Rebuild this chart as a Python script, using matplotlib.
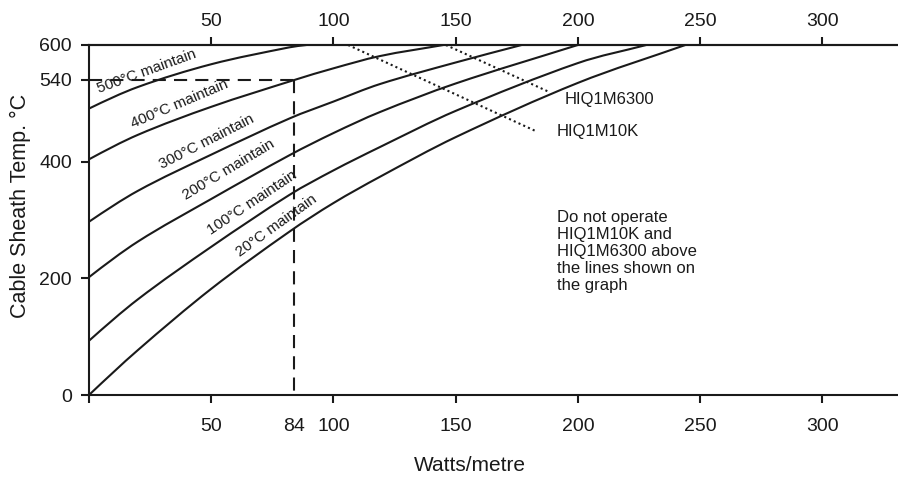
import matplotlib
matplotlib.use("Agg")
import matplotlib.pyplot as plt
from matplotlib.path import Path
from matplotlib.patches import PathPatch

plt.rcParams['font.family'] = ['Liberation Sans', 'DejaVu Sans']

# ---- data ----
x500 = [0, 20, 50, 82, 89]
y500 = [491, 528, 567, 596, 600]
x400 = [0, 20, 50, 84, 100, 119, 145]
y400 = [404, 446, 494, 540, 560, 581, 600]
x300 = [0, 20, 50, 82, 100, 119, 150, 177]
y300 = [297, 350, 412, 474, 503, 533, 570, 600]
x200 = [0, 20, 50, 82, 100, 119, 150, 200]
y200 = [202, 263, 336, 411, 449, 485, 534, 600]
x100 = [0, 20, 50, 82, 100, 119, 150, 200, 228]
y100 = [93, 164, 254, 343, 385, 425, 487, 569, 600]
x20 = [0, 20, 50, 82, 100, 119, 150, 200, 244]
y20 = [0, 77, 182, 280, 329, 374, 442, 535, 600]

curve_labels = ["500°C maintain", "400°C maintain", "300°C maintain",
                "200°C maintain", "100°C maintain", "20°C maintain"]

x_10k = [106, 183]
y_10k = [600, 452]
x_6300 = [146, 188]
y_6300 = [600, 520]

ref_watts = 84
ref_temp = 540

bottom_ticks = [0, 50, 100, 150, 200, 250, 300]
bottom_labels = ["", "50", "100", "150", "200", "250", "300"]
top_ticks = [50, 100, 150, 200, 250, 300]
y_ticks = [0, 200, 400, 540, 600]

INK = '#1a1a1a'


def smooth_path(xs, ys):
    """Cubic Bezier path through the read points (Hermite tangents)."""
    n = len(xs)
    sec = [(ys[i + 1] - ys[i]) / (xs[i + 1] - xs[i]) for i in range(n - 1)]
    m = [0.0] * n
    for i in range(1, n - 1):
        m[i] = (ys[i + 1] - ys[i - 1]) / (xs[i + 1] - xs[i - 1])
    m[0] = 0.5 * (sec[0] + (2 * sec[0] - m[1])) if n > 2 else sec[0]
    m[-1] = sec[-1]
    verts = [(xs[0], ys[0])]
    codes = [Path.MOVETO]
    for i in range(n - 1):
        h = xs[i + 1] - xs[i]
        verts += [(xs[i] + h / 3, ys[i] + m[i] * h / 3),
                  (xs[i + 1] - h / 3, ys[i + 1] - m[i + 1] * h / 3),
                  (xs[i + 1], ys[i + 1])]
        codes += [Path.CURVE4] * 3
    return Path(verts, codes)


# ---- figure ----
fig = plt.figure(figsize=(8.98, 4.79), dpi=100)
ax = fig.add_axes([89/898, 84/479, 809/898, 350/479])
ax.set_xlim(0, 331)
ax.set_ylim(0, 600)

for xs, ys in [(x500, y500), (x400, y400), (x300, y300),
               (x200, y200), (x100, y100), (x20, y20)]:
    ax.add_patch(PathPatch(smooth_path(xs, ys), fill=False, edgecolor=INK,
                           lw=1.5, capstyle='butt'))

ax.plot(x_10k, y_10k, color=INK, lw=1.5, linestyle=(0, (1.0, 1.5)))
ax.plot(x_6300, y_6300, color=INK, lw=1.5, linestyle=(0, (1.0, 1.5)))

ax.plot([0, ref_watts], [ref_temp, ref_temp], color=INK, lw=1.5,
        dashes=(6.3, 3.9))
ax.plot([ref_watts, ref_watts], [ref_temp, 0], color=INK, lw=1.5,
        dashes=(6.3, 3.9))

# curve labels
label_pos = [(23.8, 554, 20), (36.9, 499, 23), (48.0, 435, 27),
             (57.0, 386, 31), (66.8, 329, 33.7), (76.6, 291, 35.8)]
for txt, (lx, ly, rot) in zip(curve_labels, label_pos):
    ax.text(lx, ly, txt, rotation=rot, rotation_mode='anchor',
            ha='center', va='center', fontsize=11, color=INK)

ax.text(194.7, 506, "HIQ1M6300", fontsize=12, ha='left', va='center', color=INK)
ax.text(191.3, 452, "HIQ1M10K", fontsize=12, ha='left', va='center', color=INK)
ax.text(191.3, 317, "Do not operate\nHIQ1M10K and\nHIQ1M6300 above\nthe lines shown on\nthe graph",
        fontsize=12, ha='left', va='top', linespacing=1.17, color=INK)

# spines & ticks
for s in ['left', 'bottom', 'top']:
    ax.spines[s].set_linewidth(1.5)
    ax.spines[s].set_color(INK)
ax.spines['right'].set_visible(False)

ax.set_xticks(bottom_ticks)
ax.set_xticklabels(bottom_labels)
ax.set_xticks([ref_watts], minor=True)
ax.set_xticklabels([str(ref_watts)], minor=True)
ax.tick_params(axis='x', which='major', direction='out', length=5.8, width=1.5,
               pad=10.8, labelsize=14, colors=INK)
ax.tick_params(axis='x', which='minor', length=0, pad=16.6, labelsize=14,
               colors=INK)
ax.set_yticks(y_ticks)
ax.tick_params(axis='y', direction='out', length=5.8, width=1.5, pad=6.5,
               labelsize=14, colors=INK)

secax = ax.secondary_xaxis('top')
secax.set_xticks(top_ticks)
secax.tick_params(direction='out', length=5.8, width=1.5, pad=5,
                  labelsize=14, colors=INK)
secax.spines['top'].set_linewidth(1.5)
secax.spines['top'].set_color(INK)

ax.set_xlabel("Watts/metre", fontsize=15, color=INK)
ax.xaxis.set_label_coords(0.471, -0.174)
ax.set_ylabel("Cable Sheath Temp. °C", fontsize=15.5, color=INK)
ax.yaxis.set_label_coords(-0.072, 0.54)

fig.savefig("out.png", dpi=100)
